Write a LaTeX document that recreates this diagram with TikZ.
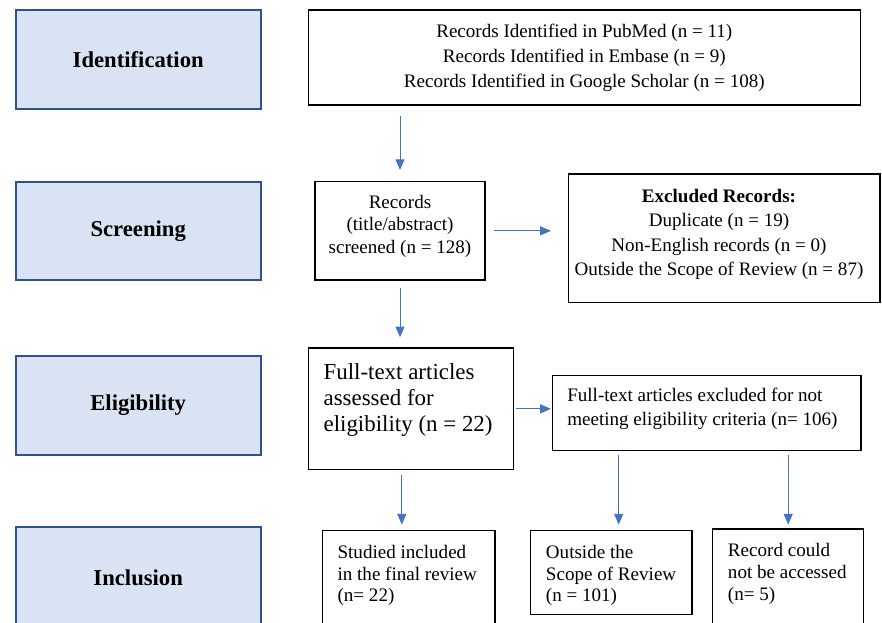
\documentclass[tikz,border=0pt]{standalone}
\usepackage{fontspec}
\setmainfont{Liberation Serif}
\usepackage{tikz}
\usetikzlibrary{arrows.meta,fit,positioning}
\definecolor{stagefill}{HTML}{DAE3F3}
\definecolor{stageline}{HTML}{2F528F}
\definecolor{arrblue}{HTML}{4472C4}
\tikzstyle{stage}=[rectangle,draw=stageline,line width=1.5pt,fill=stagefill,inner sep=0pt,
    minimum width=183.75pt,font=\fontsize{17}{20}\selectfont\bfseries]
\tikzstyle{box}=[rectangle,draw=black,line width=1.1pt,inner sep=0pt]
\tikzstyle{txt}=[inner sep=0pt,align=center,font=\fontsize{14.3}{17.5}\selectfont]
\tikzstyle{ltxt}=[txt,align=left,anchor=west]
\tikzstyle{arr}=[draw=arrblue,line width=0.75pt,-{Triangle[length=8pt,width=6.75pt]}]

\begin{document}
\begin{tikzpicture}[x=0.75pt,y=-0.75pt]
    \useasboundingbox (0,0) rectangle (882,623);

    % stage column
    \foreach \name/\ymid/\hgt/\lbl in {ident/59.35/74/Identification,
    screen/230.85/73.7/Screening,elig/405.35/74.5/Eligibility,incl/577.35/76/Inclusion}
        \node[stage,minimum height=\hgt pt] (\name) at (138.2,\ymid) {\lbl};

    % boxes
    \node[box,fit={(308.3,10) (860.3,105)}] (search) {};
    \node[box,fit={(315,181.7) (485,280)}] (records) {};
    \node[box,fit={(568.3,174) (880,302.7)}] (excluded) {};
    \node[box,fit={(308.3,348) (513.3,469.7)}] (fulltext) {};
    \node[box,fit={(552.3,375.3) (861,450.3)}] (notmeet) {};
    \node[box,fit={(322.7,530.3) (495,640)}] (included) {};
    \node[box,fit={(530.7,530.3) (692,614.7)}] (outscope) {};
    \node[box,fit={(712.7,529) (863.7,640)}] (noaccess) {};

    % texts
    \node[txt,font=\fontsize{14.3}{18.75}\selectfont] (searchtxt) at (584.3,57.5)
        {Records Identified in PubMed (n = 11)\\ Records Identified in Embase (n = 9)\\
        Records Identified in Google Scholar (n = 108)};
    \node[txt,font=\fontsize{14.3}{16.9}\selectfont] (recordstxt) at (400,226.3)
        {Records\\ (title/abstract)\\ screened (n = 128)};
    \node[txt,font=\fontsize{14.3}{18.4}\selectfont] (excludedtxt) at (719,234.5)
        {\textbf{Excluded Records:}\\ Duplicate (n = 19)\\ Non-English records (n = 0)\\
        Outside the Scope of Review (n = 87)};
    \node[ltxt,font=\fontsize{17.2}{19.5}\selectfont] (fulltexttxt) at (323.3,399.8)
        {Full-text articles\\ assessed for\\ eligibility (n = 22)};
    \node[ltxt] (notmeettxt) at (567,408.8)
        {Full-text articles excluded for not\\ meeting eligibility criteria (n= 106)};
    \node[ltxt,font=\fontsize{14.3}{16.3}\selectfont] (includedtxt) at (337.3,575.5)
        {Studied included\\ in the final review\\ (n= 22)};
    \node[ltxt,font=\fontsize{14.3}{16.3}\selectfont] (outscopetxt) at (545.7,575.5)
        {Outside the\\ Scope of Review\\ (n = 101)};
    \node[ltxt,font=\fontsize{14.3}{16.3}\selectfont] (noaccesstxt) at (727.7,573.8)
        {Record could\\ not be accessed\\ (n= 5)};

    % arrows
    \path[arr,shorten <=7.5pt,shorten >=8.25pt] (search.south -| records.north) -- (records.north);
    \path[arr,shorten <=5.25pt,shorten >=7.5pt] (records.south) -- (records.south |- fulltext.north);
    \path[arr,shorten <=6pt,shorten >=12.5pt] (records.east) -- (records.east -| excluded.west);
    \path[arr,shorten <=1.3pt,shorten >=0.5pt] (fulltext.east) -- (fulltext.east -| notmeet.west);
    \path[arr,shorten <=3.75pt,shorten >=3.75pt] ([xshift=-6.75pt]fulltext.south)
        -- ([xshift=-6.75pt]fulltext.south |- included.north);
    \path[arr,shorten <=2.8pt,shorten >=3.75pt] ([xshift=5.5pt]outscope.north |- notmeet.south)
        -- ([xshift=5.5pt]outscope.north);
    \path[arr,shorten <=2.8pt,shorten >=2.8pt] (noaccess.north |- notmeet.south) -- (noaccess.north);
\end{tikzpicture}
\end{document}
